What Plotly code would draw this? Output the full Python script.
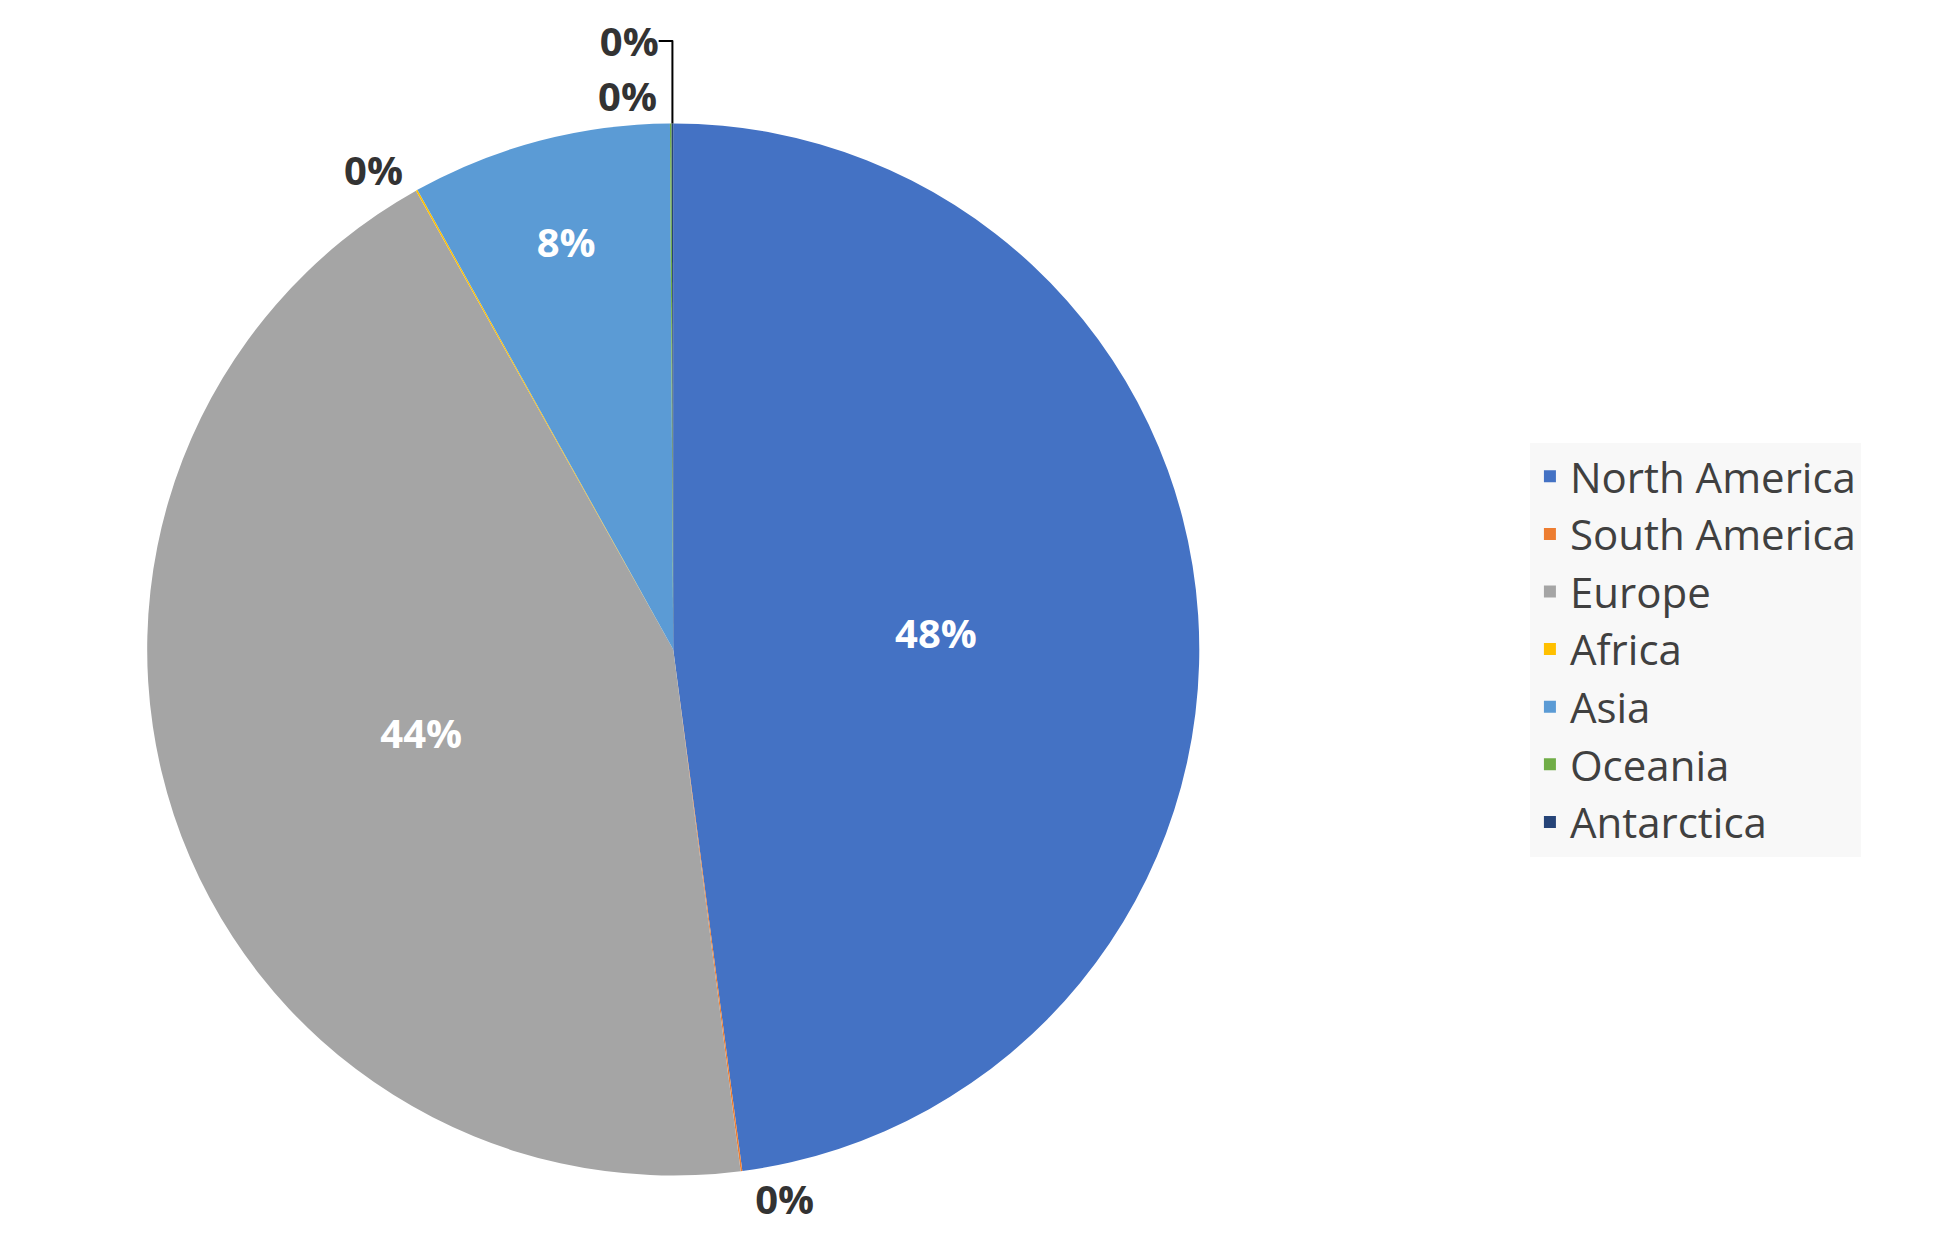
import plotly.graph_objects as go

continents = ["North America", "South America", "Europe", "Africa", "Asia", "Oceania", "Antarctica"]
shares = [48.0, 0.05, 44.0, 0.05, 8.0, 0.05, 0.05]
colors = ["#4472C4", "#ED7D31", "#A5A5A5", "#FFC000", "#5B9BD5", "#70AD47", "#264478"]

# big slices get their label inside, tiny ones outside
positions = ["inside" if s >= 1 else "outside" for s in shares]
text_colors = ["white" if s >= 1 else "#333333" for s in shares]

fig = go.Figure(go.Pie(
    labels=continents,
    values=shares,
    sort=False,
    direction="clockwise",
    rotation=0,
    marker=dict(colors=colors, line=dict(width=0)),
    textinfo="percent",
    texttemplate="<b>%{percent:.0%}</b>",
    textposition=positions,
    insidetextorientation="horizontal",
    textfont=dict(family="Open Sans", size=40, color=text_colors),
    domain=dict(x=[0.03, 0.64], y=[0.05, 0.95]),
))

fig.update_layout(
    width=1960, height=1246,
    paper_bgcolor="white",
    margin=dict(l=0, r=0, t=20, b=20),
    uniformtext=dict(minsize=30, mode="show"),
    legend=dict(
        x=0.775, y=0.5, xanchor="left", yanchor="middle",
        bgcolor="#F8F8F8",
        font=dict(family="Open Sans", size=42, color="#404040"),
        itemwidth=30,
    ),
)

fig.write_html("out.html")
